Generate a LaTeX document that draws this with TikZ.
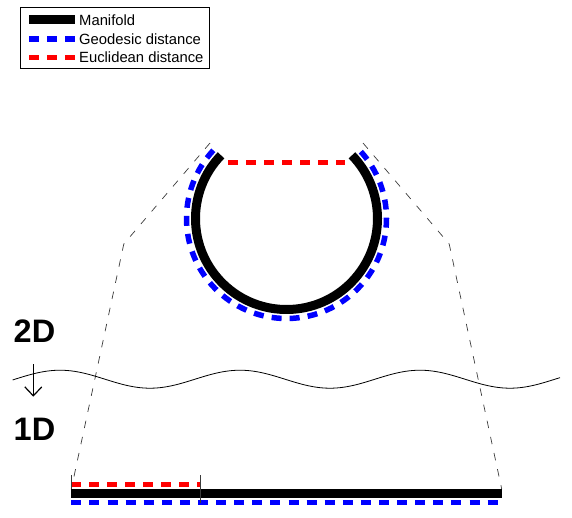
\documentclass[tikz,border=0pt]{standalone}
\usepackage{fontspec}
\setmainfont{Liberation Sans}
\usetikzlibrary{arrows.meta}
\definecolor{MfBlue}{RGB}{0,0,255}
\definecolor{MfRed}{RGB}{255,0,0}
\definecolor{MfGuide}{RGB}{60,60,60}

\begin{document}
\begin{tikzpicture}[x=1pt,y=1pt,
  manifold/.style={line width=9pt,black},
  geodesic/.style={line width=5.5pt,MfBlue,dash pattern=on 10pt off 8.1pt},
  euclid/.style={line width=5pt,MfRed,dash pattern=on 10pt off 8pt},
  guide/.style={line width=0.7pt,MfGuide,dash pattern=on 7.5pt off 9pt},
  tick/.style={line width=0.8pt,MfGuide},
  legtext/.style={anchor=base west,inner sep=0pt,font=\fontsize{14.8}{18}\selectfont},
  dimlabel/.style={anchor=base west,inner sep=0pt,font=\fontsize{32.5}{36}\selectfont\bfseries}
]
\useasboundingbox (0,0) rectangle (572,-517);
% legend
\draw[line width=0.8pt] (20.7,-7.3) rectangle (209.3,-68.3);
\coordinate (lm1) at (29,-19.3);  \coordinate (lm2) at (75,-19.3);
\coordinate (lg1) at (29,-39);    \coordinate (lg2) at (75,-39);
\coordinate (le1) at (29,-57);    \coordinate (le2) at (75,-57);
\draw[manifold] (lm1)--(lm2);
\draw[geodesic] (lg1)--(lg2);
\draw[euclid] (le1)--(le2);
\node[legtext] (lgman) at (79,-25.5) {Manifold};
\node[legtext] (lggeo) at (79,-44.2) {Geodesic distance};
\node[legtext] (lgeuc) at (79,-62.3) {Euclidean distance};
% 2D manifold
\coordinate (c) at (286.5,-218.5);
\draw[geodesic] ([shift={(137:100)}]c) arc[start angle=137,end angle=403,radius=100];
\draw[manifold] ([shift={(136:91)}]c) arc[start angle=136,end angle=404,radius=91];
\coordinate (ce1) at (228.3,-162); \coordinate (ce2) at (345.3,-162);
\draw[euclid] (ce1)--(ce2);
% guides to the 1D line
\coordinate (gl1) at (210,-143);   \coordinate (gl2) at (123.8,-244); \coordinate (gl3) at (71.3,-489);
\coordinate (gr1) at (363,-143);   \coordinate (gr2) at (449.2,-244); \coordinate (gr3) at (501.7,-489);
\draw[guide] (gl1)--(gl2)--(gl3);
\draw[guide] (gr1)--(gr2)--(gr3);
% cut between 2D and 1D
\draw[line width=0.8pt] plot[domain=12.7:560,samples=160] (\x,{-379.2+9*cos(2*(\x-60))});
\coordinate (a1) at (33.3,-364); \coordinate (a2) at (33.3,-396.7);
\draw[-{Straight Barb[length=9pt,width=17pt]},line width=1.2pt] (a1)--(a2);
\node[dimlabel] (twod) at (13.5,-342.7) {2D};
\node[dimlabel] (oned) at (13.5,-440) {1D};
% 1D manifold
\coordinate (b1) at (71.3,-493.5); \coordinate (b2) at (501.7,-493.5);
\coordinate (bg1) at (71.3,-502.7); \coordinate (bg2) at (501.7,-502.7);
\coordinate (be1) at (71.3,-484.3); \coordinate (be2) at (200.7,-484.3);
\draw[geodesic] (bg1)--(bg2);
\draw[manifold] (b1)--(b2);
\draw[euclid] (be1)--(be2);
\draw[tick] (71.3,-475)--(71.3,-489);
\draw[tick] (200.7,-475)--(200.7,-503);
\end{tikzpicture}
\end{document}
